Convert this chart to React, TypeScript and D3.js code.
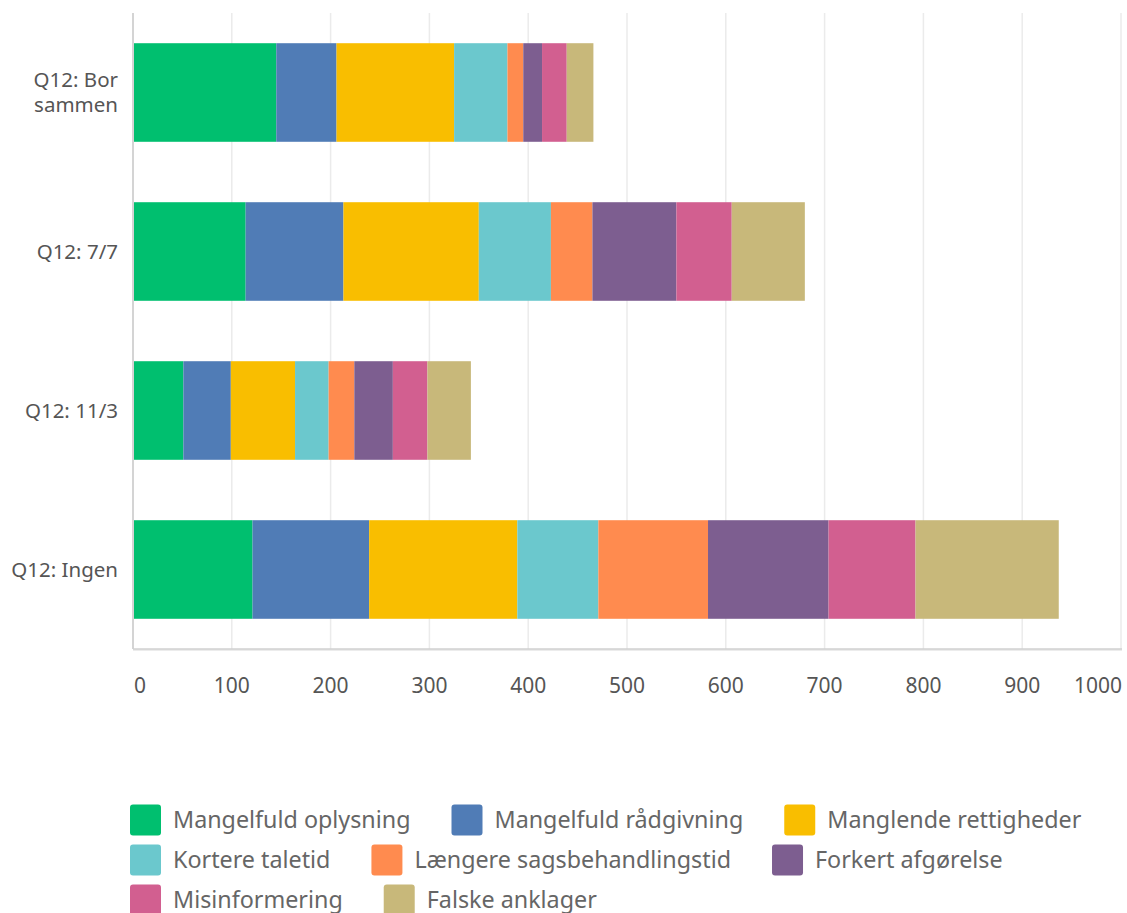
import React, { useRef, useEffect } from 'react';
import * as d3 from 'd3';

const categories = ['Q12: Bor sammen', 'Q12: 7/7', 'Q12: 11/3', 'Q12: Ingen'];
const categoryLines = [['Q12: Bor', 'sammen'], ['Q12: 7/7'], ['Q12: 11/3'], ['Q12: Ingen']];

const seriesNames = [
  'Mangelfuld oplysning',
  'Mangelfuld rådgivning',
  'Manglende rettigheder',
  'Kortere taletid',
  'Længere sagsbehandlingstid',
  'Forkert afgørelse',
  'Misinformering',
  'Falske anklager',
];

const mangelfuldOplysning = [145, 114, 51, 121];
const mangelfuldRaadgivning = [61, 99, 48, 118];
const manglendeRettigheder = [119, 137, 65, 150];
const korteretaletid = [54, 73, 34, 82];
const laengereSagsbehandling = [16, 42, 26, 111];
const forkertAfgoerelse = [19, 85, 39, 122];
const misinformering = [25, 56, 35, 88];
const falskeAnklager = [27, 74, 44, 145];

const seriesValues = [
  mangelfuldOplysning,
  mangelfuldRaadgivning,
  manglendeRettigheder,
  korteretaletid,
  laengereSagsbehandling,
  forkertAfgoerelse,
  misinformering,
  falskeAnklager,
];

const xTicks = [0, 100, 200, 300, 400, 500, 600, 700, 800, 900, 1000];

const colors = ['#00BF6F', '#507CB6', '#F9BE00', '#6BC8CD', '#FF8B4F', '#7D5E90', '#D25F90', '#C8B87A'];

const WIDTH = 1127;
const HEIGHT = 913;
const FONT = "'Noto Sans', sans-serif";

const App = () => {
  const svgRef = useRef<SVGSVGElement>(null);

  useEffect(() => {
    const svg = d3.select(svgRef.current);
    svg.selectAll('*').remove();

    const plot = { left: 133, right: 1121, top: 13, bottom: 649 };

    const x = d3.scaleLinear().domain([0, 1000]).range([plot.left, plot.right]);
    const y = d3.scaleBand<string>()
      .domain(categories)
      .range([plot.top, plot.bottom])
      .paddingInner(0.38)
      .paddingOuter(0.19);

    // rader til stack
    const rows = categories.map((c, i) => {
      const row: any = { category: c };
      seriesNames.forEach((s, j) => { row[s] = seriesValues[j][i]; });
      return row;
    });
    const stacked = d3.stack().keys(seriesNames)(rows);

    // gitterlinjer
    svg.append('g')
      .selectAll('line')
      .data(xTicks.slice(1))
      .join('line')
      .attr('x1', d => x(d))
      .attr('x2', d => x(d))
      .attr('y1', plot.top)
      .attr('y2', plot.bottom)
      .attr('stroke', '#ebebeb')
      .attr('stroke-width', 1.5);

    // søjler
    svg.append('g')
      .selectAll('g')
      .data(stacked)
      .join('g')
      .attr('fill', (_, i) => colors[i])
      .selectAll('rect')
      .data(d => d)
      .join('rect')
      .attr('x', d => x(d[0]))
      .attr('width', d => x(d[1]) - x(d[0]))
      .attr('y', d => y(d.data.category as string)!)
      .attr('height', y.bandwidth());

    // akselinjer
    svg.append('line')
      .attr('x1', plot.left).attr('x2', plot.left)
      .attr('y1', plot.top).attr('y2', plot.bottom)
      .attr('stroke', '#d4d4d4').attr('stroke-width', 2);
    svg.append('line')
      .attr('x1', plot.left).attr('x2', plot.right + 1)
      .attr('y1', plot.bottom + 1).attr('y2', plot.bottom + 1)
      .attr('stroke', '#ececec').attr('stroke-width', 2);
    svg.append('line')
      .attr('x1', plot.left).attr('x2', plot.right + 1)
      .attr('y1', plot.bottom).attr('y2', plot.bottom)
      .attr('stroke', '#d0d0d0').attr('stroke-width', 1.5);

    // x-etiketter
    svg.append('g')
      .selectAll('text')
      .data(xTicks)
      .join('text')
      .attr('x', d => d === 0 ? x(d) + 1 : d === 1000 ? x(d) + 1 : x(d))
      .attr('y', 686)
      .attr('dy', '0.35em')
      .attr('text-anchor', d => d === 0 ? 'start' : d === 1000 ? 'end' : 'middle')
      .attr('font-family', FONT)
      .attr('font-size', 21)
      .attr('fill', '#555')
      .text(d => d);

    // y-etiketter
    const yLabels = svg.append('g')
      .selectAll('text')
      .data(categories)
      .join('text')
      .attr('text-anchor', 'end')
      .attr('font-family', FONT)
      .attr('font-size', 20.5)
      .attr('fill', '#555');
    yLabels.each(function (c, i) {
      const lines = categoryLines[i];
      const cy = y(c)! + y.bandwidth() / 2;
      const lh = 25;
      lines.forEach((l, k) => {
        d3.select(this).append('tspan')
          .attr('x', 118)
          .attr('y', cy + (k - (lines.length - 1) / 2) * lh)
          .attr('dy', '0.35em')
          .text(l);
      });
    });

    // forklaring
    const legend = svg.append('g');
    const rowsY = [820, 860, 900];
    const breaks = [0, 0, 0, 1, 1, 1, 2, 2];
    let cursor = 130;
    let lastRow = 0;
    seriesNames.forEach((name, i) => {
      const r = breaks[i];
      if (r !== lastRow) { cursor = 130; lastRow = r; }
      const g = legend.append('g');
      g.append('rect')
        .attr('x', cursor)
        .attr('y', rowsY[r] - 15.5)
        .attr('width', 31)
        .attr('height', 31)
        .attr('rx', 3)
        .attr('fill', colors[i]);
      const t = g.append('text')
        .attr('x', cursor + 43)
        .attr('y', rowsY[r])
        .attr('dy', '0.35em')
        .attr('font-family', FONT)
        .attr('font-size', 23.3)
        .attr('fill', '#666')
        .text(name);
      const w = (t.node() as SVGTextElement).getComputedTextLength();
      cursor += 43 + w + 41;
    });
  }, []);

  return (
    <svg
      ref={svgRef}
      width={WIDTH}
      height={HEIGHT}
      style={{ position: 'absolute', left: 0, top: 0, display: 'block', background: '#fff' }}
    />
  );
};

export default App;
